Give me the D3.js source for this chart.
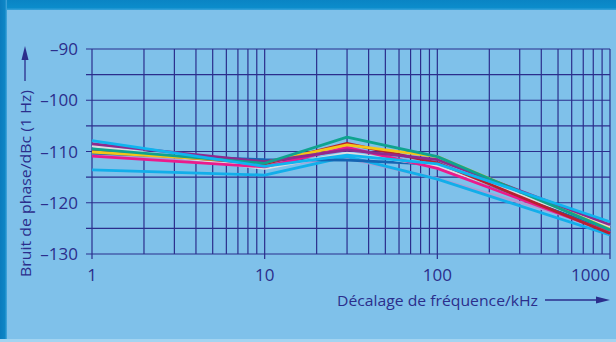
<!DOCTYPE html>
<html>
<head>
<meta charset="utf-8">
<script src="https://cdn.jsdelivr.net/npm/d3@7"></script>
<style>
  html, body { margin: 0; padding: 0; }
  body { width: 616px; height: 342px; overflow: hidden; }
  svg { display: block; }
</style>
</head>
<body>
<svg id="chart" width="616" height="342"></svg>
<script>
// Offset frequencies (kHz) at which phase noise was measured
const frequencies = [1, 10, 30, 100, 1000];

// Phase noise, dBc (1 Hz), one array per device
const cyanTop   = [-107.9, -112.9, -110.7, -112.4, -123.7];
const purple    = [-108.5, -112.0, -109.7, -111.6, -124.3];
const silver    = [-108.9, -113.3, -110.3, -112.8, -124.7];
const teal      = [-109.5, -112.3, -107.2, -111.0, -125.3];
const darkRed   = [-109.8, -112.4, -108.4, -112.2, -126.0];
const yellow    = [-110.1, -112.1, -108.7, -111.0, -125.2];
const magenta   = [-110.9, -113.0, -109.2, -113.3, -125.8];
const blue      = [-110.3, -111.6, -111.7, -112.5, -125.6];
const lavender  = [-110.5, -112.8, -111.3, -115.3, -125.0];
const cyanLow   = [-113.6, -114.6, -111.0, -115.4, -126.3];

const seriesNames  = ["lavender", "cyanLow", "blue", "silver", "magenta", "darkRed", "yellow", "purple", "teal", "cyanTop"];
const seriesValues = [lavender, cyanLow, blue, silver, magenta, darkRed, yellow, purple, teal, cyanTop];
const seriesColors = ["#a99fd6", "#12aeea", "#1565b3", "#d9dde0", "#ec1a8c", "#b8202e", "#f5c518", "#8e2a8e", "#0fa38e", "#0fb4ef"];

const yTicks = [-130, -120, -110, -100, -90];
const yGrid  = [-130, -125, -120, -115, -110, -105, -100, -95, -90];
const xTicks = [1, 10, 100, 1000];
const xTickLabels = ["1", "10", "100", "1000"];

const xTitle = "Décalage de fréquence/kHz";
const yTitle = "Bruit de phase/dBc (1 Hz)";

const W = 616, H = 342;
const ink = "#2b2e8c";
const font = "'Open Sans', 'Noto Sans', sans-serif";

const svg = d3.select("#chart");
const defs = svg.append("defs");

// Panel background with darker frame at the top and left
const topGrad = defs.append("linearGradient").attr("id", "topBand")
  .attr("x1", 0).attr("y1", 0).attr("x2", 0).attr("y2", 1);
topGrad.append("stop").attr("offset", "0%").attr("stop-color", "#0a84c4");
topGrad.append("stop").attr("offset", "75%").attr("stop-color", "#0b8ccb");
topGrad.append("stop").attr("offset", "100%").attr("stop-color", "#3aa3da");

const leftGrad = defs.append("linearGradient").attr("id", "leftBand")
  .attr("x1", 0).attr("y1", 0).attr("x2", 1).attr("y2", 0);
leftGrad.append("stop").attr("offset", "0%").attr("stop-color", "#0a7cbe");
leftGrad.append("stop").attr("offset", "70%").attr("stop-color", "#0e86c6");
leftGrad.append("stop").attr("offset", "100%").attr("stop-color", "#4aa9de");

svg.append("rect").attr("width", W).attr("height", H).attr("fill", "#7fc1ea");
svg.append("rect").attr("x", 0).attr("y", 0).attr("width", W).attr("height", 10).attr("fill", "url(#topBand)");
svg.append("rect").attr("x", 0).attr("y", 0).attr("width", 7).attr("height", H).attr("fill", "url(#leftBand)");
svg.append("rect").attr("x", 0).attr("y", H - 3).attr("width", W).attr("height", 3).attr("fill", "#a3d4f1");

// Scales
const x = d3.scaleLog().domain([1, 1000]).range([92, 610]);
const y = d3.scaleLinear().domain([-130, -90]).range([254, 49]);

const grid = svg.append("g").attr("stroke", ink).attr("stroke-width", 1.2).attr("fill", "none");

// Vertical grid at 1..9 of each decade
const xGrid = [];
for (let dec = 1; dec < 1000; dec *= 10) {
  for (let m = 1; m < 10; m++) xGrid.push(dec * m);
}
xGrid.push(1000);
grid.selectAll("line.v").data(xGrid).join("line")
  .attr("class", "v")
  .attr("x1", d => x(d)).attr("x2", d => x(d))
  .attr("y1", y(-90))
  .attr("y2", d => xTicks.includes(d) ? y(-130) + 5 : y(-130));

// Horizontal grid every 5 dB, extending into the left ticks
grid.selectAll("line.h").data(yGrid).join("line")
  .attr("class", "h")
  .attr("x1", x(1) - 6).attr("x2", x(1000))
  .attr("y1", d => y(d)).attr("y2", d => y(d));

// Series lines
const line = d3.line()
  .x((d, i) => x(frequencies[i]))
  .y(d => y(d));

svg.append("g").selectAll("path").data(seriesValues).join("path")
  .attr("d", d => line(d))
  .attr("fill", "none")
  .attr("stroke", (d, i) => seriesColors[i])
  .attr("stroke-width", 2.8)
  .attr("stroke-linejoin", "round")
  .attr("stroke-linecap", "butt");

// Y tick labels
svg.append("g").selectAll("text").data(yTicks).join("text")
  .attr("x", 78).attr("y", d => y(d))
  .attr("dy", "0.36em")
  .attr("text-anchor", "end")
  .attr("fill", ink)
  .attr("font-family", font)
  .attr("font-size", 17)
  .text(d => d < 0 ? "\u2013" + Math.abs(d) : d);

// X tick labels
svg.append("g").selectAll("text").data(xTicks).join("text")
  .attr("x", d => x(d))
  .attr("y", 281)
  .attr("text-anchor", (d, i) => i === xTicks.length - 1 ? "end" : "middle")
  .attr("fill", ink)
  .attr("font-family", font)
  .attr("font-size", 17)
  .text((d, i) => xTickLabels[i]);

// X axis title with arrow
svg.append("text")
  .attr("x", 538).attr("y", 306)
  .attr("text-anchor", "end")
  .attr("fill", ink)
  .attr("font-family", font)
  .attr("font-size", 15)
  .attr("textLength", 201)
  .attr("lengthAdjust", "spacingAndGlyphs")
  .text(xTitle);
svg.append("line").attr("x1", 545).attr("x2", 598).attr("y1", 300).attr("y2", 300)
  .attr("stroke", ink).attr("stroke-width", 1.3);
svg.append("path").attr("d", "M610,300 L596,296.5 L596,303.5 Z").attr("fill", ink);

// Y axis title with arrow
svg.append("text")
  .attr("transform", "translate(31,277) rotate(-90)")
  .attr("text-anchor", "start")
  .attr("fill", ink)
  .attr("font-family", font)
  .attr("font-size", 15)
  .attr("textLength", 187)
  .attr("lengthAdjust", "spacingAndGlyphs")
  .text(yTitle);
svg.append("line").attr("x1", 25).attr("x2", 25).attr("y1", 81).attr("y2", 58)
  .attr("stroke", ink).attr("stroke-width", 1.3);
svg.append("path").attr("d", "M25,46 L21.5,60 L28.5,60 Z").attr("fill", ink);
</script>
</body>
</html>
